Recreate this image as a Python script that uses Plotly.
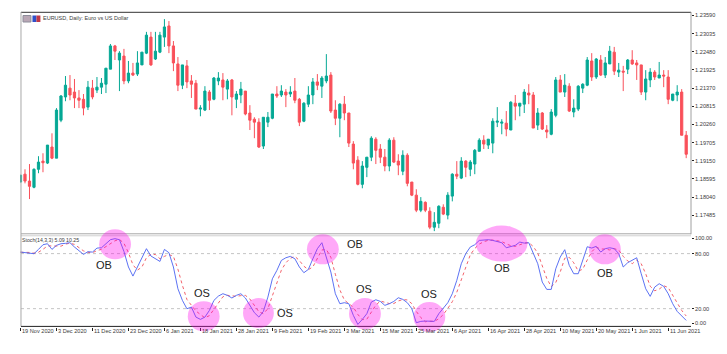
import plotly.graph_objects as go

opens = [1.1850,1.1874,1.1853,1.1834,1.1889,1.1914,1.1908,1.1957,1.1923,1.2039,1.2110,1.2137,1.2125,1.2107,1.2103,1.2079,1.2137,1.2131,1.2140,1.2149,
1.2195,1.2266,1.2223,1.2235,1.2159,1.2183,1.2180,1.2208,1.2244,1.2293,1.2226,1.2247,1.2293,1.2327,1.2266,1.2211,1.2146,1.2205,1.2159,1.2152,
1.2073,1.2070,1.2125,1.2103,1.2159,1.2162,1.2134,1.2162,1.2103,1.2116,1.2128,1.2061,1.2042,1.2033,1.1960,1.2033,1.2045,1.2119,1.2116,1.2125,
1.2119,1.2128,1.2103,1.2036,1.2088,1.2116,1.2156,1.2143,1.2159,1.2177,1.2070,1.2045,1.2088,1.2061,1.1966,1.1917,1.1843,1.1895,1.1926,1.1981,
1.1951,1.1926,1.1899,1.1978,1.1914,1.1883,1.1932,1.1850,1.1810,1.1764,1.1788,1.1761,1.1712,1.1724,1.1773,1.1749,1.1807,1.1874,1.1862,1.1914,
1.1889,1.1905,1.1944,1.1978,1.1963,1.1969,1.2033,1.2030,1.2030,1.2009,1.2091,1.2082,1.2088,1.2122,1.2116,1.2024,1.2061,1.2009,1.1996,1.2054,
1.2162,1.2125,1.2143,1.2064,1.2073,1.2137,1.2146,1.2220,1.2171,1.2223,1.2177,1.2211,1.2247,1.2186,1.2189,1.2195,1.2223,1.2214,1.2208,1.2125,
1.2162,1.2186,1.2168,1.2177,1.2171,1.2100,1.2116,1.2125,1.1993]
highs = [1.1871,1.1889,1.1905,1.1892,1.1929,1.1938,1.1963,1.1999,1.2076,1.2116,1.2174,1.2177,1.2165,1.2131,1.2119,1.2159,1.2162,1.2171,1.2168,1.2198,
1.2272,1.2269,1.2250,1.2257,1.2220,1.2214,1.2250,1.2247,1.2309,1.2309,1.2309,1.2309,1.2348,1.2342,1.2281,1.2232,1.2208,1.2223,1.2177,1.2162,
1.2085,1.2143,1.2131,1.2171,1.2186,1.2183,1.2165,1.2165,1.2128,1.2156,1.2128,1.2085,1.2048,1.2045,1.2048,1.2064,1.2119,1.2143,1.2146,1.2134,
1.2143,1.2168,1.2107,1.2094,1.2143,1.2168,1.2180,1.2174,1.2241,1.2186,1.2100,1.2091,1.2113,1.2061,1.1975,1.1929,1.1914,1.1926,1.1990,1.1987,
1.1966,1.1951,1.1984,1.1987,1.1935,1.1947,1.1938,1.1850,1.1828,1.1804,1.1791,1.1773,1.1758,1.1779,1.1782,1.1819,1.1877,1.1914,1.1926,1.1917,
1.1917,1.1951,1.1984,1.1993,1.1981,1.2045,1.2079,1.2042,1.2067,1.2097,1.2116,1.2091,1.2134,1.2149,1.2125,1.2076,1.2064,1.2024,1.2073,1.2171,
1.2177,1.2180,1.2152,1.2103,1.2146,1.2152,1.2232,1.2244,1.2229,1.2238,1.2232,1.2266,1.2263,1.2214,1.2205,1.2226,1.2253,1.2223,1.2208,1.2192,
1.2198,1.2192,1.2217,1.2192,1.2192,1.2119,1.2146,1.2134,1.2006]
lows = [1.1850,1.1846,1.1798,1.1831,1.1877,1.1880,1.1905,1.1920,1.1923,1.2033,1.2097,1.2100,1.2076,1.2076,1.2054,1.2070,1.2103,1.2122,1.2119,1.2122,
1.2195,1.2223,1.2128,1.2149,1.2152,1.2174,1.2174,1.2208,1.2241,1.2205,1.2223,1.2244,1.2263,1.2244,1.2189,1.2128,1.2134,1.2137,1.2107,1.2073,
1.2051,1.2067,1.2070,1.2100,1.2146,1.2100,1.2103,1.2054,1.2076,1.2091,1.2054,1.2009,1.1984,1.1954,1.1951,1.2018,1.2042,1.2107,1.2110,1.2079,
1.2110,1.2091,1.2021,1.2033,1.2079,1.2088,1.2131,1.2107,1.2152,1.2061,1.2024,1.1987,1.2039,1.1957,1.1889,1.1840,1.1831,1.1865,1.1914,1.1905,
1.1908,1.1883,1.1883,1.1908,1.1871,1.1871,1.1837,1.1807,1.1758,1.1758,1.1758,1.1706,1.1700,1.1709,1.1749,1.1736,1.1791,1.1859,1.1859,1.1865,
1.1868,1.1874,1.1944,1.1951,1.1951,1.1938,1.2018,1.1996,1.1990,1.2009,1.2039,1.2051,1.2061,1.2088,1.2015,1.2009,1.2009,1.1984,1.1993,1.2048,
1.2125,1.2110,1.2064,1.2048,1.2067,1.2122,1.2143,1.2159,1.2165,1.2174,1.2168,1.2211,1.2177,1.2171,1.2128,1.2180,1.2208,1.2162,1.2116,1.2100,
1.2140,1.2162,1.2168,1.2140,1.2088,1.2097,1.2097,1.1993,1.1923]
closes = [1.1871,1.1853,1.1837,1.1889,1.1911,1.1909,1.1963,1.1923,1.2070,1.2113,1.2146,1.2116,1.2107,1.2100,1.2076,1.2140,1.2110,1.2140,1.2152,1.2198,
1.2266,1.2250,1.2244,1.2159,1.2183,1.2177,1.2214,1.2247,1.2299,1.2208,1.2250,1.2299,1.2324,1.2266,1.2214,1.2146,1.2208,1.2156,1.2149,1.2073,
1.2076,1.2128,1.2100,1.2168,1.2168,1.2140,1.2159,1.2110,1.2119,1.2134,1.2058,1.2039,1.2033,1.1957,1.2048,1.2048,1.2119,1.2113,1.2128,1.2116,
1.2125,1.2100,1.2033,1.2091,1.2116,1.2156,1.2146,1.2168,1.2174,1.2067,1.2045,1.2088,1.2061,1.1969,1.1908,1.1843,1.1899,1.1926,1.1984,1.1947,
1.1926,1.1899,1.1978,1.1911,1.1902,1.1932,1.1846,1.1810,1.1764,1.1791,1.1764,1.1712,1.1727,1.1776,1.1752,1.1810,1.1874,1.1868,1.1914,1.1895,
1.1911,1.1947,1.1978,1.1966,1.1981,1.2036,1.2036,1.2033,1.2012,1.2094,1.2082,1.2091,1.2125,1.2116,1.2015,1.2061,1.2012,1.2003,1.2064,1.2162,
1.2125,1.2146,1.2067,1.2076,1.2143,1.2149,1.2223,1.2171,1.2226,1.2177,1.2214,1.2250,1.2189,1.2192,1.2186,1.2223,1.2211,1.2208,1.2125,1.2165,
1.2186,1.2171,1.2177,1.2174,1.2103,1.2119,1.2125,1.1993,1.1935]

stoch_main = [81.7,81,80.6,79.9,84.6,89.7,90.8,84.6,89,90.8,91.2,91.9,87.2,82.8,79.2,82.1,81.7,86,86.4,90.8,
95.2,96.3,95.2,82.4,65.4,55.5,65.4,76.3,85.4,77.4,74.4,71.5,84.6,81,65.4,41.7,29,19.9,21.7,10.8,
8.3,10.8,18.1,29,33.7,36.3,34.5,31.6,34.5,36.3,31.6,23.6,15.6,10.8,17,32.6,52.6,61.7,72.6,75.5,
77,74.4,65.4,59.2,62.8,74.4,85.4,91.9,76.3,59.9,36.3,25.4,26.5,25.4,12.7,2.8,8.3,14.5,27.2,29.7,
27.9,23.6,25.4,27.9,31.9,30.1,26.5,20,4.7,6.1,6.5,6.1,6.1,14.5,20,26.5,36.3,50.8,69,80,
87.2,89.7,94.4,95.2,95.2,94.4,93.4,91.9,86.4,87.9,89,92.6,91.5,91.9,80,69,49,41,41,63.5,
76.3,84.3,67.2,58.1,58.1,72.6,87.5,86.1,87.9,81.7,85.4,86.4,85.4,80,65.4,70.1,72.6,75.5,58.1,41.7,
33.4,43.5,47.2,44.3,36.3,25.4,17,11.9,7.2]
stoch_signal = [81.5,81.5,81.3,80.5,81.5,84.7,88.4,88.4,88.1,88.1,90.4,91.3,90.1,87,83,81.4,81,83.3,84.7,87.7,
90.8,94,95.5,91.3,81,67.8,62,65.4,75.5,79.4,79,74.4,77,79,77,63,45.4,30,23.7,17.5,
13.6,10,12.4,19.3,27,33,34.5,34.2,33.5,34.2,34.5,30.5,23.6,16.6,14.5,20,34,49,62,70,
75,77,72.5,66.3,62.5,65.5,74,84,84.5,76,57.5,40.5,29.4,25.8,21.5,13.7,8,8.5,16.7,23.8,
28.3,27.1,25.6,25.6,28.4,29.9,29.5,25.5,17,10.3,5.8,6.3,6.2,8.9,13.5,20.3,27.6,37.9,52,66.6,
78.7,85.6,90.4,93,94.5,94.8,94.3,93.2,90.6,88.7,87.9,89.8,91.4,92,87.8,80.5,66,53,44,48.5,
60,75,76,70,61,63,73,82,87,85,85,84,85.4,84,77,72,69,73,69,58,
44.5,39.5,41.3,45,43,35.3,26.3,18.1,12]

price_ticks = [1.23590,1.23035,1.22480,1.21925,1.21370,1.20815,1.20260,1.19705,1.19150,1.18595,1.18040,1.17485]
date_positions = list(range(0, 149, 8))
date_labels = ["19 Nov 2020","3 Dec 2020","11 Dec 2020","23 Dec 2020","6 Jan 2021","18 Jan 2021","28 Jan 2021","9 Feb 2021","19 Feb 2021",
               "3 Mar 2021","15 Mar 2021","25 Mar 2021","6 Apr 2021","16 Apr 2021","28 Apr 2021","10 May 2021","20 May 2021","1 Jun 2021","11 Jun 2021"]
stoch_ticks = [97, 80, 20, 4]
stoch_tick_labels = ["100.00", "80.00", "20.00", "0.00"]

W, H = 727, 354
L, R, T, B = 19.5, 693.5, 12, 326.6
PW, PH = R - L, B - T
def px(x): return (x - L) / PW
def py(y): return (B - y) / PH

FONT = "Liberation Sans"
SMALL = "#3c3c3c"
bars = list(range(len(opens)))
fig = go.Figure()
fig.add_trace(go.Candlestick(x=bars, open=opens, high=highs, low=lows, close=closes, xaxis="x", yaxis="y",
    increasing=dict(line=dict(color="#05a895", width=1), fillcolor="#05a895"),
    decreasing=dict(line=dict(color="#f9505a", width=1), fillcolor="#f9505a"),
    whiskerwidth=0, showlegend=False, hoverinfo="skip"))
fig.add_trace(go.Scatter(x=bars, y=stoch_signal, mode="lines", xaxis="x2", yaxis="y2",
    line=dict(color="#f0505a", width=0.9, dash="dot"), showlegend=False, hoverinfo="skip"))
fig.add_trace(go.Scatter(x=bars, y=stoch_main, mode="lines", xaxis="x2", yaxis="y2",
    line=dict(color="#4a62f2", width=0.9), showlegend=False, hoverinfo="skip"))

shapes = []
def hline(y, c, w=1, x0=20.5, x1=R, dash="solid"):
    shapes.append(dict(type="line", xref="paper", yref="paper", x0=px(x0), x1=px(x1), y0=py(y), y1=py(y), line=dict(color=c, width=w, dash=dash), layer="above"))
def vline(x, y0, y1, c, w=1):
    shapes.append(dict(type="line", xref="paper", yref="paper", x0=px(x), x1=px(x), y0=py(y0), y1=py(y1), line=dict(color=c, width=w), layer="above"))
hline(12.3, "#333333")
hline(233.5, "#a8a8a8")
hline(235.5, "#d0d0d0")
vline(20.5, 12, 326, "#a8a8a8")
vline(693.5, 12, 234, "#a0a0a0")
hline(326, "#222222")
for v in (80, 20):
    shapes.append(dict(type="line", xref="paper", yref="y2", x0=px(20.5), x1=1, y0=v, y1=v, line=dict(color="#c4c4c4", width=1, dash="dot"), layer="below"))
# title icons
shapes.append(dict(type="rect", xref="paper", yref="paper", x0=px(22.5), x1=px(30.5), y0=py(22), y1=py(15.5), fillcolor="#b9a7b5", line=dict(color="#8d8d9a", width=1), layer="above"))
shapes.append(dict(type="rect", xref="paper", yref="paper", x0=px(32), x1=px(36), y0=py(22), y1=py(15.5), fillcolor="#3050c8", line=dict(width=0), layer="above"))
shapes.append(dict(type="rect", xref="paper", yref="paper", x0=px(36), x1=px(40), y0=py(22), y1=py(15.5), fillcolor="#c03848", line=dict(width=0), layer="above"))
# highlight ellipses
ellipses = [(115,244,16,15),(204,316,16,15),(259,312.7,15.5,15),(323.7,249,16,15),(366,313.3,16,15.7),(430.7,316.7,16,15),(503.3,243.3,26,18),(607,249,16,15)]
for cx, cy, rx, ry in ellipses:
    shapes.append(dict(type="circle", xref="paper", yref="paper", x0=px(cx-rx), x1=px(cx+rx), y0=py(cy+ry), y1=py(cy-ry),
                       fillcolor="rgba(255,0,235,0.34)", line=dict(width=0), layer="above"))

annotations = []
def text(x, y, s, size, color=SMALL, xanchor="left"):
    annotations.append(dict(xref="paper", yref="paper", x=px(x), y=py(y), text=s, showarrow=False, xanchor=xanchor, yanchor="middle",
                            font=dict(family=FONT, size=size, color=color), borderpad=0, borderwidth=0))
text(43, 18, "EURUSD, Daily: Euro vs US Dollar", 5.5)
text(22, 240, "Stoch(14,3,3) 5.09 10.25", 5.2)
labels = [(103.5,265,"OB"),(202.7,292.7,"OS"),(285.3,312.3,"OS"),(355.7,243.3,"OB"),(365.3,289,"OS"),(430.3,293.3,"OS"),(503.3,267.7,"OB"),(607,272.7,"OB")]
for x, y, s in labels:
    text(x, y, s, 11, "#222222", "center")
for i, s in zip(date_positions, date_labels):
    annotations.append(dict(xref="x2", yref="paper", x=i, y=py(331), text=s, showarrow=False, xanchor="left", yanchor="middle",
                            xshift=-0.5, font=dict(family=FONT, size=5.6, color=SMALL)))

x_range = [-0.11, 149.07]
y_top = [1.16919, 1.23697]
axis_font = dict(family=FONT, size=5.6, color=SMALL)
fig.update_layout(
    width=W, height=H, autosize=False, paper_bgcolor="white", plot_bgcolor="white",
    margin=dict(l=L, r=W-R, t=T, b=H-B, pad=0),
    xaxis=dict(domain=[0,1], range=x_range, anchor="y", showticklabels=False, showgrid=False, zeroline=False, ticks="", rangeslider=dict(visible=False), showline=False),
    yaxis=dict(domain=[py(233.5),1], range=y_top, side="right", anchor="x", showgrid=False, zeroline=False, tickmode="array",
               tickvals=price_ticks, ticktext=[f"{p:.5f}" for p in price_ticks], ticks="outside", ticklen=2, tickcolor="#222222", tickfont=axis_font, showline=False),
    xaxis2=dict(domain=[0,1], range=x_range, anchor="y2", showgrid=False, zeroline=False, tickmode="array", tickvals=date_positions,
                ticktext=[""]*len(date_positions), ticks="outside", ticklen=3, tickcolor="#222222", showline=False),
    yaxis2=dict(domain=[0,py(235)], range=[0,100], side="right", anchor="x2", showgrid=False, zeroline=False, tickmode="array",
                tickvals=stoch_ticks, ticktext=stoch_tick_labels, ticks="outside", ticklen=2, tickcolor="#222222", tickfont=axis_font, showline=False),
    shapes=shapes, annotations=annotations, font=dict(family=FONT), hovermode=False,
)
fig.write_html("out.html", config=dict(displayModeBar=False, responsive=False), post_script="document.body.style.margin='0';")
